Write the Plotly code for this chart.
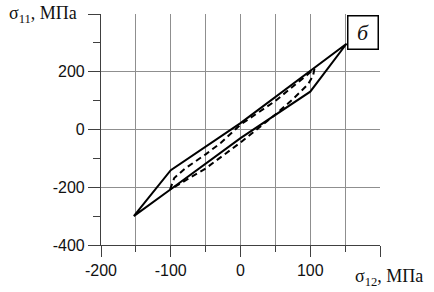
import plotly.graph_objects as go

# Outer (solid) hysteresis loop, sigma12 vs sigma11 (MPa)
solid_x = [-153, -100, 0, 108, 152, 100, 0, -100, -153]
solid_y = [-300, -141, 22, 216, 297, 131, -30, -207, -300]

# Inner (dashed) loop
dash_x = [-101, -95, -80, -50, -28, 0, 50, 106, 104, 97, 75, 50, 0, -50, -101]
dash_y = [-208, -168, -136, -86, -46, 17, 99, 210, 186, 157, 105, 52, -45, -135, -208]

x_tickvals = [-200, -100, 0, 100, 200]
x_ticktext = ["-200", "-100", "0", "100", ""]
y_tickvals = [-400, -200, 0, 200, 400]
y_ticktext = ["-400", "-200", "0", "200", ""]

fig = go.Figure()
fig.add_trace(go.Scatter(x=dash_x, y=dash_y, mode="lines",
                         line=dict(color="black", width=2, dash="6px,4px"),
                         showlegend=False, hoverinfo="skip"))
fig.add_trace(go.Scatter(x=solid_x, y=solid_y, mode="lines",
                         line=dict(color="black", width=2),
                         showlegend=False, hoverinfo="skip"))

grid_col = "#8f8f8f"
axis_col = "#404040"
tick_font = dict(family="Liberation Sans, Arial, sans-serif", size=16, color="#111")

fig.update_xaxes(range=[-200, 200], tickvals=x_tickvals, ticktext=x_ticktext,
                 automargin=False,
                 showgrid=True, gridcolor=grid_col, gridwidth=1,
                 zeroline=False, showline=True, linecolor=axis_col, linewidth=1.2,
                 ticks="outside", ticklen=11, tickcolor=axis_col, tickwidth=1.2,
                 tickfont=tick_font,
                 minor=dict(dtick=50, tick0=0, ticks="outside", ticklen=6,
                            tickcolor=axis_col, tickwidth=1.2,
                            showgrid=True, gridcolor=grid_col, gridwidth=1))
fig.update_yaxes(range=[-400, 400], tickvals=y_tickvals, ticktext=y_ticktext,
                 automargin=False,
                 showgrid=True, gridcolor=grid_col, gridwidth=1,
                 zeroline=False, showline=True, linecolor=axis_col, linewidth=1.2,
                 ticks="outside", ticklen=12, tickcolor=axis_col, tickwidth=1.2,
                 tickfont=tick_font,
                 minor=dict(dtick=100, tick0=0, ticks="outside", ticklen=7,
                            tickcolor=axis_col, tickwidth=1.2, showgrid=False))

serif = "Liberation Serif, Times New Roman, serif"
fig.add_annotation(xref="paper", yref="paper", x=-0.08, y=1.0,
                   xanchor="right", yanchor="middle", showarrow=False,
                   text="σ<sub>11</sub>, МПа",
                   font=dict(family=serif, size=18, color="#111"))
fig.add_annotation(xref="paper", yref="paper", x=0.905, y=-0.14,
                   xanchor="left", yanchor="middle", showarrow=False,
                   text="σ<sub>12</sub>, МПа",
                   font=dict(family=serif, size=18, color="#111"))
fig.add_annotation(xref="x", yref="y", x=175.5, y=337.5,
                   xanchor="center", yanchor="middle", showarrow=False,
                   text="<i>б</i>", width=29, height=32,
                   bordercolor="black", borderwidth=1.5, borderpad=0,
                   bgcolor="white",
                   font=dict(family=serif, size=22, color="#111"))

fig.update_layout(width=434, height=292,
                  margin=dict(l=101, r=54, t=14, b=47),
                  paper_bgcolor="white", plot_bgcolor="white",
                  showlegend=False)

fig.write_html("out.html", config={"displayModeBar": False},
               post_script="document.body.style.margin='0';document.body.style.padding='0';")
